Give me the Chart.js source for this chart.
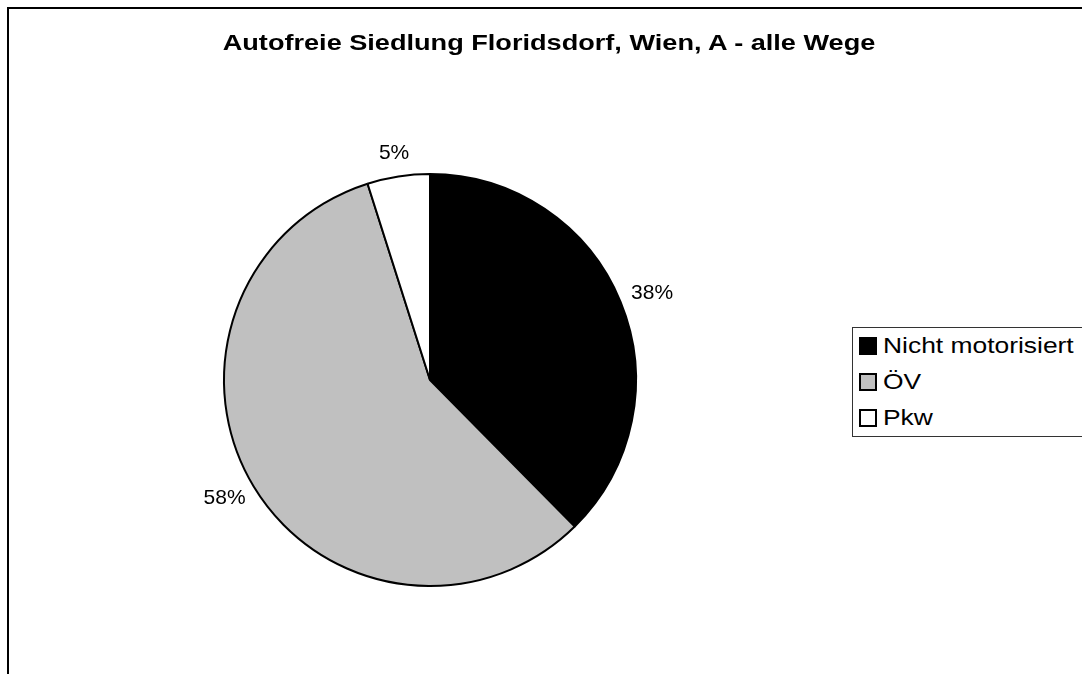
<!DOCTYPE html>
<html><head><meta charset="utf-8">
<script src="https://cdn.jsdelivr.net/npm/chart.js@4.4.1/dist/chart.umd.min.js"></script>
<style>
html,body{margin:0;padding:0;background:#fff;width:1082px;height:674px;overflow:hidden;position:relative;font-family:"Liberation Sans",Arial,sans-serif;color:#000;}
#frame{position:absolute;left:7px;top:7px;width:1300px;height:900px;border:2px solid #000;box-sizing:border-box;}
#c{position:absolute;left:0;top:0;}
#title{position:absolute;top:32px;left:549px;white-space:nowrap;font-weight:bold;font-size:22px;line-height:22px;transform-origin:50% 50%;}
#legend{position:absolute;left:852px;top:327px;width:400px;height:108px;border:1px solid #333;background:#fff;}
.row{position:relative;height:36px;line-height:36px;font-size:22px;white-space:nowrap;}
.sw{position:absolute;left:6px;top:9px;width:18px;height:18px;box-sizing:border-box;border:2px solid #000;}
.tx{position:absolute;left:30px;top:0;transform-origin:0 50%;transform:scaleX(1.2);}
</style></head>
<body>
<div id="frame"></div>
<canvas id="c" width="1082" height="674"></canvas>
<div id="title"></div>
<div id="legend"></div>
<script>
const chartTitle = "Autofreie Siedlung Floridsdorf, Wien, A - alle Wege";
const categories = ["Nicht motorisiert", "ÖV", "Pkw"];
const shares = [37.6, 57.5, 4.9];
const sliceColors = ["#000000", "#c0c0c0", "#ffffff"];

// title
const t = document.getElementById('title');
t.textContent = chartTitle;
const natW = t.offsetWidth;
t.style.transform = 'translateX(-50%) scaleX(' + (652 / natW) + ')';

// legend
const lg = document.getElementById('legend');
categories.forEach((c, i) => {
  const r = document.createElement('div'); r.className = 'row';
  const s = document.createElement('div'); s.className = 'sw'; s.style.background = sliceColors[i];
  const x = document.createElement('div'); x.className = 'tx'; x.textContent = c;
  r.appendChild(s); r.appendChild(x); lg.appendChild(r);
});

const pctLabels = {
  id: 'pctLabels',
  afterDatasetsDraw(chart) {
    const ctx = chart.ctx;
    const meta = chart.getDatasetMeta(0);
    const total = shares.reduce((a, b) => a + b, 0);
    ctx.save();
    ctx.font = '21px "Liberation Sans", Arial, sans-serif';
    ctx.fillStyle = '#000';
    ctx.textAlign = 'center';
    ctx.textBaseline = 'middle';
    meta.data.forEach((arc, i) => {
      const p = arc.getProps(['x', 'y', 'startAngle', 'endAngle', 'outerRadius'], true);
      const mid = (p.startAngle + p.endAngle) / 2;
      const txt = Math.round(shares[i] / total * 100 + 1e-9) + '%';
      const w = ctx.measureText(txt).width, h = 21;
      const r = p.outerRadius + 13;
      const cx = p.x + Math.cos(mid) * r + Math.cos(mid) * w / 2;
      const cy = p.y + Math.sin(mid) * r + Math.sin(mid) * h / 2;
      ctx.fillText(txt, cx, cy);
    });
    ctx.restore();
  }
};

new Chart(document.getElementById('c'), {
  type: 'pie',
  data: {
    labels: categories,
    datasets: [{
      data: shares,
      backgroundColor: sliceColors,
      borderColor: '#000',
      borderWidth: 2,
      hoverOffset: 0
    }]
  },
  options: {
    responsive: false,
    animation: false,
    radius: 206,
    events: [],
    layout: { padding: { left: 223, right: 445, top: 173, bottom: 87 } },
    plugins: { legend: { display: false }, title: { display: false }, tooltip: { enabled: false } }
  },
  plugins: [pctLabels]
});
</script>
</body></html>
